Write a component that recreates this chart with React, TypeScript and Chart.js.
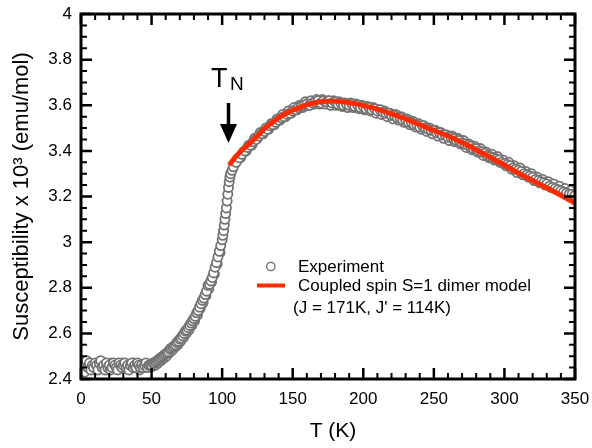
import React, { useEffect, useRef } from "react";
import { Chart, registerables } from "chart.js";

Chart.register(...registerables);

// ---- Experimental data, run 1 (T in K, susceptibility x 10^3 emu/mol) ----
const expT = [
  1.5, 2, 2.5, 3, 4, 5, 6, 7, 8, 9, 10, 11, 12, 13, 14, 15, 16, 17, 18, 19,
  20, 21, 22, 23, 24, 25, 26, 27, 28, 29, 30, 31, 32, 33, 34, 35, 36, 37, 38, 39,
  40, 41, 42, 43, 44, 45, 46, 47, 48, 49,
  50, 51, 52, 53, 54, 55, 56, 57, 58, 59, 60, 61, 62, 63, 64, 65, 66, 67, 68, 69,
  70, 71, 72, 73, 74, 75, 76, 77, 78, 79, 80, 81, 82, 83, 84, 85, 86, 87, 88, 89,
  90, 91, 92, 93, 94, 95, 96, 97, 98, 99, 100, 100.5, 101, 101.5, 102, 102.5, 103,
  103.5, 104, 104.5, 105, 105.5, 106, 107, 108,
  110, 112, 114, 116, 118, 120, 122, 124, 126, 128, 130, 132, 134, 136, 138, 140,
  142, 144, 146, 148, 150, 152, 154, 156, 158, 160, 162, 164, 166, 168, 170, 172,
  174, 176, 178, 180, 182, 184, 186, 188, 190, 192, 194, 196, 198, 200, 202, 204,
  206, 208, 210, 212, 214, 216, 218, 220, 222, 224, 226, 228, 230, 232, 234, 236,
  238, 240, 242, 244, 246, 248, 250, 252, 254, 256, 258, 260, 262, 264, 266, 268,
  270, 272, 274, 276, 278, 280, 282, 284, 286, 288, 290, 292, 294, 296, 298, 300,
  302, 304, 306, 308, 310, 312, 314, 316, 318, 320, 322, 324, 326, 328, 330, 332,
  334, 336, 338, 340, 342, 344, 346, 348, 350,
];
const expChi = [
  2.44, 2.47, 2.43, 2.46, 2.48, 2.45, 2.47, 2.44, 2.46, 2.45, 2.47, 2.46, 2.44, 2.47, 2.48, 2.45, 2.46, 2.44, 2.47, 2.45,
  2.46, 2.44, 2.45, 2.47, 2.46, 2.45, 2.44, 2.47, 2.46, 2.45, 2.46, 2.47, 2.45, 2.46, 2.44, 2.46, 2.47, 2.45, 2.46, 2.45,
  2.47, 2.46, 2.45, 2.46, 2.45, 2.46, 2.47, 2.45, 2.46, 2.46,
  2.46, 2.47, 2.47, 2.475, 2.48, 2.485, 2.49, 2.495, 2.5, 2.505, 2.51, 2.515, 2.52, 2.53, 2.535, 2.54, 2.545, 2.55, 2.56, 2.565,
  2.575, 2.58, 2.59, 2.6, 2.61, 2.615, 2.625, 2.635, 2.645, 2.655, 2.665, 2.675, 2.69, 2.7, 2.715, 2.73, 2.745, 2.755, 2.77, 2.785,
  2.81, 2.815, 2.83, 2.845, 2.865, 2.89, 2.91, 2.935, 2.96, 2.985, 3.01, 3.03, 3.05, 3.075, 3.1, 3.125, 3.15,
  3.18, 3.21, 3.24, 3.265, 3.285, 3.3, 3.315, 3.33,
  3.35, 3.37, 3.385, 3.4, 3.415, 3.425, 3.44, 3.45, 3.465, 3.475, 3.485, 3.495, 3.51, 3.515, 3.525, 3.535,
  3.545, 3.55, 3.56, 3.565, 3.575, 3.58, 3.59, 3.595, 3.6, 3.605, 3.6, 3.61, 3.615, 3.62, 3.61, 3.62,
  3.615, 3.62, 3.61, 3.615, 3.605, 3.61, 3.6, 3.605, 3.6, 3.605, 3.595, 3.6, 3.59, 3.595, 3.585, 3.59,
  3.58, 3.585, 3.575, 3.58, 3.57, 3.565, 3.565, 3.555, 3.555, 3.545, 3.545, 3.535, 3.535, 3.525, 3.525, 3.515,
  3.515, 3.505, 3.51, 3.5, 3.495, 3.49, 3.49, 3.48, 3.48, 3.47, 3.47, 3.46, 3.46, 3.455, 3.445, 3.445,
  3.435, 3.43, 3.425, 3.42, 3.41, 3.41, 3.4, 3.395, 3.39, 3.38, 3.375, 3.37, 3.365, 3.36, 3.35, 3.345,
  3.34, 3.335, 3.325, 3.32, 3.315, 3.31, 3.3, 3.295, 3.29, 3.285, 3.275, 3.27, 3.265, 3.26, 3.255, 3.245,
  3.24, 3.235, 3.23, 3.225, 3.22, 3.215, 3.21, 3.21, 3.205,
];

// ---- Experimental data, run 2 ----
const exp2T = [
  1, 3.5, 5.5, 7.5, 9.5, 11.5, 13.5, 15.5, 17.5, 19.5, 21.5, 23.5, 25.5, 27.5, 29.5, 31.5,
  33.5, 35.5, 37.5, 39.5, 41.5, 43.5, 45.5, 47.5, 49.5,
  50.5, 52.5, 54.5, 56.5, 58.5, 60.5, 62.5, 64.5, 66.5, 68.5, 70.5, 72.5, 74.5, 76.5, 78.5,
  80.5, 82.5, 84.5, 86.5, 88.5, 90.5, 92.5, 94.5, 96.5, 98.5,
  109, 111, 113, 115, 117, 119, 121, 123, 125, 127, 129, 131, 133, 135, 137, 139,
  141, 143, 145, 147, 149, 151, 153, 155, 157, 159, 161, 163, 165, 167, 169, 171,
  173, 175, 177, 179, 181, 183, 185, 187, 189, 191, 193, 195, 197, 199, 201, 203,
  205, 207, 209, 211, 213, 215, 217, 219, 221, 223, 225, 227, 229, 231, 233, 235,
  237, 239, 241, 243, 245, 247, 249, 251, 253, 255, 257, 259, 261, 263, 265, 267,
  269, 271, 273, 275, 277, 279, 281, 283, 285, 287, 289, 291, 293, 295, 297, 299,
  301, 303, 305, 307, 309, 311, 313, 315, 317, 319, 321, 323, 325, 327, 329, 331,
  333, 335, 337, 339, 341, 343, 345, 347, 349,
];
const exp2Chi = [
  2.46, 2.45, 2.47, 2.455, 2.44, 2.465, 2.47, 2.45, 2.465, 2.44, 2.47, 2.455, 2.465, 2.445, 2.47, 2.455,
  2.465, 2.45, 2.47, 2.455, 2.44, 2.465, 2.45, 2.455, 2.465,
  2.455, 2.46, 2.47, 2.48, 2.49, 2.5, 2.515, 2.525, 2.54, 2.55, 2.565, 2.58, 2.6, 2.615, 2.635,
  2.655, 2.68, 2.71, 2.735, 2.765, 2.795, 2.825, 2.86, 2.905, 2.955,
  3.345, 3.365, 3.37, 3.395, 3.4, 3.425, 3.425, 3.455, 3.455, 3.48, 3.475, 3.5, 3.495, 3.52, 3.515, 3.54,
  3.535, 3.56, 3.55, 3.575, 3.565, 3.59, 3.58, 3.6, 3.59, 3.615, 3.6, 3.62, 3.605, 3.625, 3.605, 3.625,
  3.605, 3.62, 3.6, 3.62, 3.6, 3.615, 3.595, 3.61, 3.59, 3.61, 3.59, 3.605, 3.585, 3.6, 3.58, 3.595,
  3.575, 3.59, 3.565, 3.58, 3.56, 3.575, 3.55, 3.565, 3.54, 3.56, 3.535, 3.55, 3.525, 3.54, 3.515, 3.53,
  3.505, 3.52, 3.495, 3.51, 3.485, 3.5, 3.475, 3.49, 3.465, 3.48, 3.455, 3.47, 3.445, 3.465, 3.44, 3.455,
  3.43, 3.445, 3.415, 3.43, 3.405, 3.42, 3.395, 3.41, 3.38, 3.395, 3.37, 3.385, 3.36, 3.375, 3.35, 3.36,
  3.335, 3.35, 3.32, 3.335, 3.305, 3.325, 3.295, 3.31, 3.285, 3.3, 3.27, 3.285, 3.26, 3.275, 3.25, 3.265,
  3.24, 3.255, 3.23, 3.245, 3.22, 3.235, 3.21, 3.225, 3.2,
];

// ---- Coupled spin S=1 dimer model fit ----
const fitT = [
  105, 110, 115, 120, 125, 130, 135, 140, 145, 150, 155, 160, 165, 170, 175, 180, 185, 190, 195, 200,
  210, 220, 230, 240, 250, 260, 270, 280, 290, 300, 310, 320, 330, 340, 350,
];
const fitChi = [
  3.338, 3.377, 3.408, 3.435, 3.465, 3.497, 3.522, 3.545, 3.563, 3.578, 3.591, 3.602, 3.61, 3.615, 3.617, 3.617, 3.615, 3.611, 3.606, 3.599,
  3.583, 3.562, 3.54, 3.515, 3.49, 3.465, 3.437, 3.405, 3.372, 3.338, 3.303, 3.27, 3.238, 3.205, 3.17,
];

// ---- Axis ticks ----
const xMajorTicks = [0, 50, 100, 150, 200, 250, 300, 350];
const xMinorTicks = [
  10, 20, 30, 40, 60, 70, 80, 90, 110, 120, 130, 140, 160, 170, 180, 190,
  210, 220, 230, 240, 260, 270, 280, 290, 310, 320, 330, 340,
];
const yMajorTicks = [2.4, 2.6, 2.8, 3.0, 3.2, 3.4, 3.6, 3.8, 4.0];
const yMinorTicks = [
  2.45, 2.5, 2.55, 2.65, 2.7, 2.75, 2.85, 2.9, 2.95, 3.05, 3.1, 3.15,
  3.25, 3.3, 3.35, 3.45, 3.5, 3.55, 3.65, 3.7, 3.75, 3.85, 3.9, 3.95,
];

const legendLabels = ["Experiment", "Coupled spin S=1 dimer model", "(J = 171K, J' = 114K)"];
const xTitle = "T (K)";
const yTitle = "Susceptibility x 10\u00B3 (emu/mol)";

const FONT = "'Liberation Sans', Arial, Helvetica, sans-serif";
const GREY = "#737373";
const RED = "#ff2a00";

const overlayPlugin = {
  id: "overlay",
  afterDatasetsDraw(chart: any) {
    const { ctx, chartArea: a, scales } = chart;
    const xs = scales.x;
    const ys = scales.y;
    ctx.save();
    ctx.strokeStyle = "#000";
    ctx.lineCap = "butt";
    const drawX = (vals: number[], len: number, w: number) => {
      ctx.lineWidth = w;
      for (const v of vals) {
        const px = xs.getPixelForValue(v);
        ctx.beginPath();
        ctx.moveTo(px, a.bottom);
        ctx.lineTo(px, a.bottom - len);
        ctx.moveTo(px, a.top);
        ctx.lineTo(px, a.top + len);
        ctx.stroke();
      }
    };
    const drawY = (vals: number[], len: number, w: number) => {
      ctx.lineWidth = w;
      for (const v of vals) {
        const py = ys.getPixelForValue(v);
        ctx.beginPath();
        ctx.moveTo(a.left, py);
        ctx.lineTo(a.left + len, py);
        ctx.moveTo(a.right, py);
        ctx.lineTo(a.right - len, py);
        ctx.stroke();
      }
    };
    drawX(xMajorTicks, 11, 2.5);
    drawX(xMinorTicks, 6, 2);
    drawY(yMajorTicks, 11, 2.5);
    drawY(yMinorTicks, 6, 2);
    ctx.lineWidth = 3;
    ctx.strokeRect(a.left, a.top, a.right - a.left, a.bottom - a.top);

    // T_N annotation with arrow
    ctx.fillStyle = "#000";
    ctx.textBaseline = "alphabetic";
    ctx.textAlign = "left";
    ctx.font = `27px ${FONT}`;
    ctx.fillText("T", 211, 87);
    ctx.font = `19px ${FONT}`;
    ctx.fillText("N", 230, 90);
    ctx.lineWidth = 3.5;
    ctx.beginPath();
    ctx.moveTo(228.5, 103);
    ctx.lineTo(228.5, 128);
    ctx.stroke();
    ctx.beginPath();
    ctx.moveTo(220, 124);
    ctx.lineTo(237, 124);
    ctx.lineTo(228.5, 143);
    ctx.closePath();
    ctx.fill();

    // Legend
    ctx.beginPath();
    ctx.arc(270.8, 266.5, 4.2, 0, Math.PI * 2);
    ctx.fillStyle = "#fff";
    ctx.fill();
    ctx.lineWidth = 1.2;
    ctx.strokeStyle = "#666";
    ctx.stroke();
    ctx.strokeStyle = RED;
    ctx.lineWidth = 4;
    ctx.beginPath();
    ctx.moveTo(257, 285.5);
    ctx.lineTo(285, 285.5);
    ctx.stroke();
    ctx.fillStyle = "#000";
    ctx.font = `17px ${FONT}`;
    ctx.fillText(legendLabels[0], 298, 272);
    ctx.fillText(legendLabels[1], 298, 291);
    ctx.fillText(legendLabels[2], 293, 313);

    // Axis titles
    ctx.textAlign = "center";
    ctx.textBaseline = "middle";
    ctx.font = `21px ${FONT}`;
    ctx.fillText(xTitle, (a.left + a.right) / 2 + 5, 431);
    ctx.save();
    ctx.translate(22, (a.top + a.bottom) / 2);
    ctx.rotate(-Math.PI / 2);
    ctx.font = `22px ${FONT}`;
    ctx.fillText(yTitle, 0, 0);
    ctx.restore();
    ctx.restore();
  },
};

export default function App() {
  const ref = useRef<HTMLCanvasElement>(null);
  useEffect(() => {
    if (!ref.current) return;
    Chart.defaults.font.family = FONT;
    const pointStyle = {
      pointRadius: 4.6,
      pointBorderWidth: 1.8,
      borderColor: GREY,
      backgroundColor: "#ffffff",
      pointBackgroundColor: "#ffffff",
      pointBorderColor: GREY,
    };
    const chart = new Chart(ref.current, {
      type: "scatter",
      data: {
        datasets: [
          {
            label: "Coupled spin S=1 dimer model",
            data: fitT.map((t, i) => ({ x: t, y: fitChi[i] })),
            showLine: true,
            borderColor: RED,
            borderWidth: 5,
            pointRadius: 0,
            cubicInterpolationMode: "monotone",
          } as any,
          {
            label: "Experiment",
            data: expT.map((t, i) => ({ x: t, y: expChi[i] })),
            ...pointStyle,
          },
          {
            label: "Experiment (run 2)",
            data: exp2T.map((t, i) => ({ x: t, y: exp2Chi[i] })),
            ...pointStyle,
          },
        ],
      },
      options: {
        animation: false,
        responsive: false,
        devicePixelRatio: 1,
        layout: { autoPadding: false, padding: { top: 14, right: 17, left: 0, bottom: 0 } },
        plugins: { legend: { display: false }, tooltip: { enabled: false } },
        scales: {
          x: {
            type: "linear",
            min: 0,
            max: 350,
            grid: { display: false, drawTicks: false },
            border: { display: false },
            ticks: {
              stepSize: 50,
              color: "#000",
              font: { size: 17, family: FONT },
              padding: 10,
              maxRotation: 0,
            },
            afterFit: (s: any) => {
              s.height = 69;
              s.paddingLeft = 0;
              s.paddingRight = 0;
            },
          },
          y: {
            type: "linear",
            min: 2.4,
            max: 4.0,
            grid: { display: false, drawTicks: false },
            border: { display: false },
            ticks: {
              stepSize: 0.2,
              color: "#000",
              font: { size: 17, family: FONT },
              padding: 9,
              callback: (v: any) => String(Math.round(Number(v) * 10) / 10),
            },
            afterFit: (s: any) => {
              s.width = 81;
              s.paddingTop = 0;
              s.paddingBottom = 0;
            },
          },
        },
      },
      plugins: [overlayPlugin],
    });
    return () => chart.destroy();
  }, []);
  return (
    <div style={{ position: "fixed", left: 0, top: 0, width: 592, height: 448, background: "#fff" }}>
      <canvas ref={ref} width={592} height={448} style={{ width: 592, height: 448 }} />
    </div>
  );
}
